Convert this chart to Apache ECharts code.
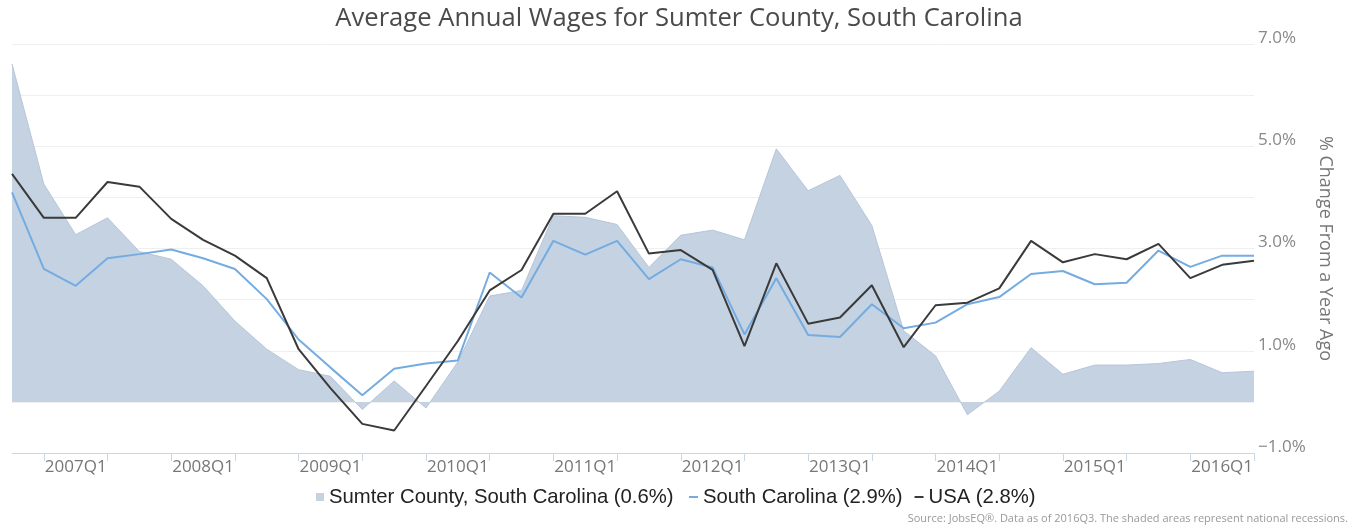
<!DOCTYPE html>
<html>
<head>
    <meta charset="utf-8">
    <style>
        body{
            margin:0;
            padding:0;
        }
        #chart{
            width: 1358px;
            height: 527px;
        }
    </style>
</head>
<body>
    <div id="chart"></div>
    <script src="https://cdn.jsdelivr.net/npm/echarts@6/dist/echarts.min.js"></script>
    <script>
        var quarters = ["2006Q3","2006Q4","2007Q1","2007Q2","2007Q3","2007Q4",
            "2008Q1","2008Q2","2008Q3","2008Q4","2009Q1","2009Q2","2009Q3","2009Q4",
            "2010Q1","2010Q2","2010Q3","2010Q4","2011Q1","2011Q2","2011Q3","2011Q4",
            "2012Q1","2012Q2","2012Q3","2012Q4","2013Q1","2013Q2","2013Q3","2013Q4",
            "2014Q1","2014Q2","2014Q3","2014Q4","2015Q1","2015Q2","2015Q3","2015Q4",
            "2016Q1","2016Q2"];
        var sumter = [6.61,4.26,3.27,3.60,2.94,2.79,2.27,1.58,1.03,0.63,0.50,-0.15,0.41,-0.12,
            0.78,2.07,2.18,3.64,3.61,3.47,2.63,3.26,3.36,3.17,4.95,4.13,4.43,3.45,1.39,0.90,
            -0.25,0.21,1.06,0.54,0.72,0.72,0.75,0.83,0.57,0.60];
        var southCarolina = [4.10,2.60,2.27,2.81,2.89,2.98,2.81,2.60,2.01,1.22,0.67,0.13,0.65,0.75,
            0.81,2.53,2.04,3.15,2.88,3.15,2.40,2.79,2.63,1.32,2.42,1.31,1.27,1.91,1.44,1.55,
            1.91,2.05,2.50,2.56,2.30,2.33,2.96,2.64,2.86,2.86];
        var usa = [4.46,3.60,3.60,4.30,4.21,3.58,3.17,2.86,2.42,1.03,0.27,-0.43,-0.56,0.31,
            1.19,2.18,2.58,3.68,3.68,4.12,2.90,2.97,2.58,1.09,2.71,1.53,1.65,2.28,1.07,1.89,
            1.94,2.22,3.15,2.73,2.89,2.79,3.09,2.42,2.68,2.76];
        var legendNames = ["Sumter County, South Carolina (0.6%)", "South Carolina (2.9%)", "USA (2.8%)"];
    </script>
    <script>
        var chart = echarts.init(document.getElementById("chart"));
        var legendText = {
            fontFamily: "Liberation Sans",
            fontSize: 20.3,
            color: "#222"
        };
        var option = {
            animation: false,
            title: {
                text: "Average Annual Wages for Sumter County, South Carolina",
                left: "center",
                top: 1,
                textStyle: {
                    fontFamily: "Open Sans",
                    fontSize: 25.6,
                    fontWeight: "normal",
                    color: "#4a4a4a"
                }
            },
            // two legends so the area gets a square and the lines get a dash
            legend: [
                {
                    top: 487,
                    left: 316,
                    padding: 0,
                    itemWidth: 8,
                    itemHeight: 8,
                    icon: "rect",
                    textStyle: legendText,
                    data: [legendNames[0]]
                },
                {
                    top: 487,
                    left: 689,
                    padding: 0,
                    itemWidth: 9,
                    itemHeight: 2,
                    itemGap: 12,
                    icon: "rect",
                    textStyle: legendText,
                    data: [legendNames[1], legendNames[2]]
                }
            ],
            grid: {
                left: 12,
                right: 104,
                top: 44,
                bottom: 74
            },
            xAxis: {
                type: "category",
                data: quarters,
                boundaryGap: false,
                axisLine: { onZero: false, lineStyle: { color: "#ccd6eb" } },
                axisTick: {
                    length: 8,
                    lineStyle: { color: "#ccd6eb" },
                    interval: function(index){ return index % 2 === 1; }
                },
                axisLabel: {
                    interval: function(index){ return index % 4 === 2; },
                    fontFamily: "Open Sans",
                    fontSize: 17,
                    color: "#777",
                    margin: 6
                },
                splitLine: { show: false }
            },
            yAxis: {
                type: "value",
                position: "right",
                min: -1,
                max: 7,
                interval: 1,
                name: "% Change From a Year Ago",
                nameLocation: "middle",
                nameRotate: -90,
                nameGap: 60,
                nameTextStyle: {
                    fontFamily: "Open Sans",
                    fontSize: 18,
                    color: "#777"
                },
                axisLine: { show: false },
                axisTick: { show: false },
                axisLabel: {
                    margin: 4,
                    fontFamily: "Open Sans",
                    fontSize: 17,
                    color: "#888",
                    verticalAlign: "bottom",
                    lineHeight: 12,
                    formatter: function(v){
                        if (Math.abs(v % 2) !== 1) return "";
                        return (v < 0 ? "\u2212" : "") + Math.abs(v).toFixed(1) + "%";
                    }
                },
                splitLine: { lineStyle: { color: "#efefef" } }
            },
            series: [
                {
                    name: legendNames[0],
                    type: "line",
                    data: sumter,
                    symbol: "none",
                    color: "#c4d2e2",
                    lineStyle: { color: "#b6c6d9", width: 1 },
                    areaStyle: { color: "#c4d2e2", opacity: 1 },
                    z: 1
                },
                {
                    name: legendNames[1],
                    type: "line",
                    data: southCarolina,
                    symbol: "none",
                    color: "#74ace2",
                    lineStyle: { color: "#74ace2", width: 2 },
                    z: 2
                },
                {
                    name: legendNames[2],
                    type: "line",
                    data: usa,
                    symbol: "none",
                    color: "#3a3a3a",
                    lineStyle: { color: "#3a3a3a", width: 2 },
                    z: 3
                }
            ],
            graphic: [{
                type: "text",
                right: 10,
                bottom: 3,
                style: {
                    text: "Source: JobsEQ\u00ae. Data as of 2016Q3. The shaded areas represent national recessions.",
                    fontFamily: "Open Sans",
                    fontSize: 11,
                    fill: "#999"
                }
            }]
        };
        chart.setOption(option);
    </script>
</body>
</html>
